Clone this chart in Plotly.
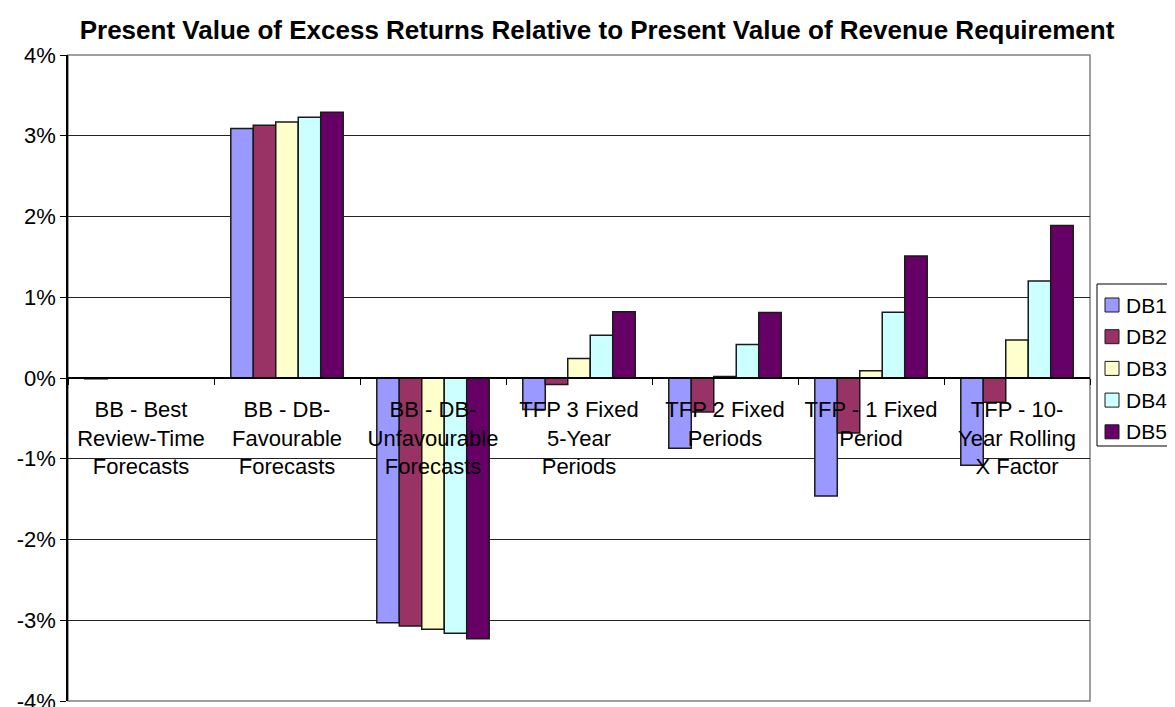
import plotly.graph_objects as go

CATEGORIES = [
    "BB - Best<br>Review-Time<br>Forecasts",
    "BB - DB-<br>Favourable<br>Forecasts",
    "BB - DB-<br>Unfavourable<br>Forecasts",
    "TFP 3 Fixed<br>5-Year<br>Periods",
    "TFP 2 Fixed<br>Periods",
    "TFP - 1 Fixed<br>Period",
    "TFP - 10-<br>Year Rolling<br>X Factor",
]

# values in percent
DB1 = [-0.01, 3.09, -3.03, -0.39, -0.87, -1.46, -1.08]
DB2 = [0.0, 3.13, -3.07, -0.08, -0.42, -0.68, -0.30]
DB3 = [0.0, 3.17, -3.11, 0.24, 0.02, 0.09, 0.47]
DB4 = [0.0, 3.23, -3.16, 0.53, 0.415, 0.815, 1.20]
DB5 = [0.0, 3.29, -3.23, 0.82, 0.81, 1.51, 1.89]

SERIES = [
    ("DB1", DB1, "#9999FF"),
    ("DB2", DB2, "#993366"),
    ("DB3", DB3, "#FFFFCC"),
    ("DB4", DB4, "#CCFFFF"),
    ("DB5", DB5, "#660066"),
]

Y_TICKS = [-4, -3, -2, -1, 0, 1, 2, 3, 4]
Y_TICK_TEXT = [f"{t}%" for t in Y_TICKS]

FONT = "Arial, 'Liberation Sans', sans-serif"

# the page body has an 8px margin, so the figure is 8px smaller than the window
OFF = 8
W, H = 1175 - OFF, 707 - OFF
L, R, T, B = 60, 85, 47, 6
PW, PH = W - L - R, H - T - B


def px_x(x):
    # window pixel -> paper x
    return (x - OFF - L) / PW


def px_y(y):
    # window pixel -> paper y
    return (H - B - (y - OFF)) / PH


fig = go.Figure()
for name, vals, color in SERIES:
    fig.add_trace(go.Bar(
        x=CATEGORIES, y=vals, name=name,
        marker=dict(color=color, line=dict(color="#1a1a1a", width=1.5)),
        showlegend=False,
    ))

# legend drawn by hand so it fits in the narrow right margin like the original
shapes = [
    dict(type="rect", xref="paper", yref="paper", x0=0, x1=1, y0=0, y1=1,
         line=dict(color="#808080", width=1.5), layer="below"),
    dict(type="rect", xref="paper", yref="paper",
         x0=px_x(1097), x1=px_x(1172), y0=px_y(446), y1=px_y(284),
         line=dict(color="black", width=1), fillcolor="white"),
]
annotations = []
for i, (name, _, color) in enumerate(SERIES):
    cy = 305 + i * 31.7
    shapes.append(dict(
        type="rect", xref="paper", yref="paper",
        x0=px_x(1105), x1=px_x(1119), y0=px_y(cy + 7), y1=px_y(cy - 7),
        line=dict(color="#1a1a1a", width=1), fillcolor=color,
    ))
    annotations.append(dict(
        text=name, xref="paper", yref="paper", x=px_x(1124), y=px_y(cy),
        xanchor="left", yanchor="middle", showarrow=False,
        font=dict(size=21),
    ))

fig.update_layout(
    width=W, height=H,
    barmode="group", bargap=0.23, bargroupgap=0,
    paper_bgcolor="white", plot_bgcolor="white",
    font=dict(family=FONT, size=22, color="black"),
    margin=dict(l=L, r=R, t=T, b=B, autoexpand=False),
    title=dict(
        text="<b>Present Value of Excess Returns Relative to Present Value of Revenue Requirement</b>",
        font=dict(size=26), x=589 / W, xanchor="center", xref="container",
        y=1 - 22 / H, yanchor="middle",
    ),
    showlegend=False,
    shapes=shapes,
    annotations=annotations,
)

fig.update_xaxes(
    anchor="free", position=0.5, automargin=False,
    showline=True, linecolor="black", linewidth=1.5,
    ticks="outside", tickson="boundaries", ticklen=6, tickcolor="black",
    ticklabelstandoff=12,
    showgrid=False, tickfont=dict(size=22),
)
fig.update_yaxes(
    range=[-4, 4], tickvals=Y_TICKS, ticktext=Y_TICK_TEXT, automargin=False,
    ticklabeloverflow="allow",
    showline=True, linecolor="black", linewidth=1.5,
    ticks="outside", ticklen=6, tickcolor="black",
    showgrid=True, gridcolor="#222222", gridwidth=1,
    zeroline=False, tickfont=dict(size=22),
)

fig.write_html("out.html")
